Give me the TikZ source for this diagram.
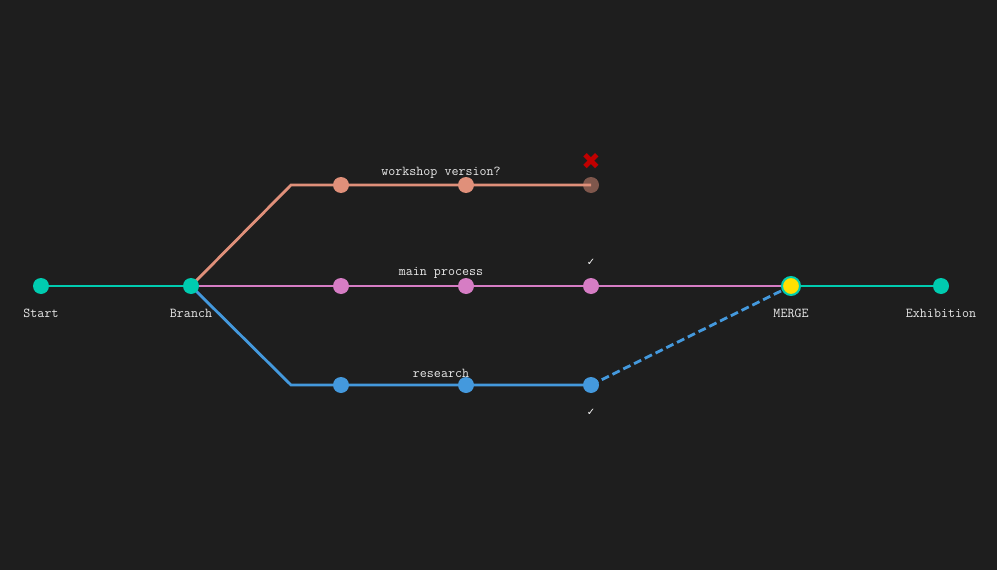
\documentclass[tikz,border=0pt]{standalone}
\usepackage{fontspec}
\newfontfamily\symfont{DejaVu Sans}
\definecolor{bg}{HTML}{1E1E1E}
\definecolor{teal}{HTML}{00CCB0}
\definecolor{pinkc}{HTML}{D67DC4}
\definecolor{bluec}{HTML}{4499DD}
\definecolor{orangec}{HTML}{E0907A}
\definecolor{labelc}{HTML}{E8E8E8}
\definecolor{crossc}{HTML}{C00000}
\definecolor{yellowc}{HTML}{FFE000}
\begin{document}
\begin{tikzpicture}[x=1pt,y=-1pt,
  dot/.style={circle,inner sep=0pt,minimum size=16pt},
  lbl/.style={text=labelc,font=\ttfamily\fontsize{13.6}{14}\selectfont,inner sep=0pt},
  tickmark/.style={text=white,font=\symfont\fontsize{10}{11}\selectfont,inner sep=0pt},
  ln/.style={line width=2.8pt}]
\fill[bg] (0,0) rectangle (997,570);
\useasboundingbox (0,0) rectangle (997,570);
% coordinates
\coordinate (start) at (41,286);
\coordinate (branch) at (191,286);
\coordinate (k1) at (291,185);
\coordinate (k2) at (291,385);
\coordinate (o1) at (341,185);
\coordinate (o2) at (466,185);
\coordinate (o3) at (591,185);
\coordinate (p1) at (341,286);
\coordinate (p2) at (466,286);
\coordinate (p3) at (591,286);
\coordinate (b1) at (341,385);
\coordinate (b2) at (466,385);
\coordinate (b3) at (591,385);
\coordinate (merge) at (791,286);
\coordinate (exh) at (941,286);
% lines
\draw[ln,teal] (start) -- (branch);
\draw[ln,pinkc] (branch) -- (merge);
\draw[ln,orangec] (branch) -- (k1) -- (o3);
\draw[ln,bluec] (branch) -- (k2) -- (b3);
\draw[ln,bluec,dash pattern=on 8pt off 4pt] (b3) -- (merge);
\draw[ln,teal] (merge) -- (exh);
% nodes
\node[dot,fill=teal] (nstart) at (start) {};
\node[dot,fill=teal] (nbranch) at (branch) {};
\node[dot,fill=orangec] (no1) at (o1) {};
\node[dot,fill=orangec] (no2) at (o2) {};
\node[dot,fill=orangec,opacity=0.5] (no3) at (o3) {};
\node[dot,fill=pinkc] (np1) at (p1) {};
\node[dot,fill=pinkc] (np2) at (p2) {};
\node[dot,fill=pinkc] (np3) at (p3) {};
\node[dot,fill=bluec] (nb1) at (b1) {};
\node[dot,fill=bluec] (nb2) at (b2) {};
\node[dot,fill=bluec] (nb3) at (b3) {};
\node[circle,inner sep=0pt,minimum size=18pt,fill=yellowc,draw=teal,line width=2pt] (nmerge) at (merge) {};
\node[dot,fill=teal] (nexh) at (exh) {};
% labels
\node[lbl] (lstart) at (41,313) {Start};
\node[lbl] (lbranch) at (191,313) {Branch};
\node[lbl] (lmerge) at (791,313) {MERGE};
\node[lbl] (lexh) at (941,313) {Exhibition};
\node[lbl] (lwork) at (441,173) {workshop version?};
\node[lbl] (lmain) at (441,273) {main process};
\node[lbl] (lres) at (441,373) {research};
\node[tickmark] (t1) at (591,262) {✓};
\node[tickmark] (t2) at (591,412) {✓};
\node[text=crossc,font=\symfont\fontsize{23}{24}\selectfont,inner sep=0pt] (cross) at (591,161) {✖};
\end{tikzpicture}
\end{document}
